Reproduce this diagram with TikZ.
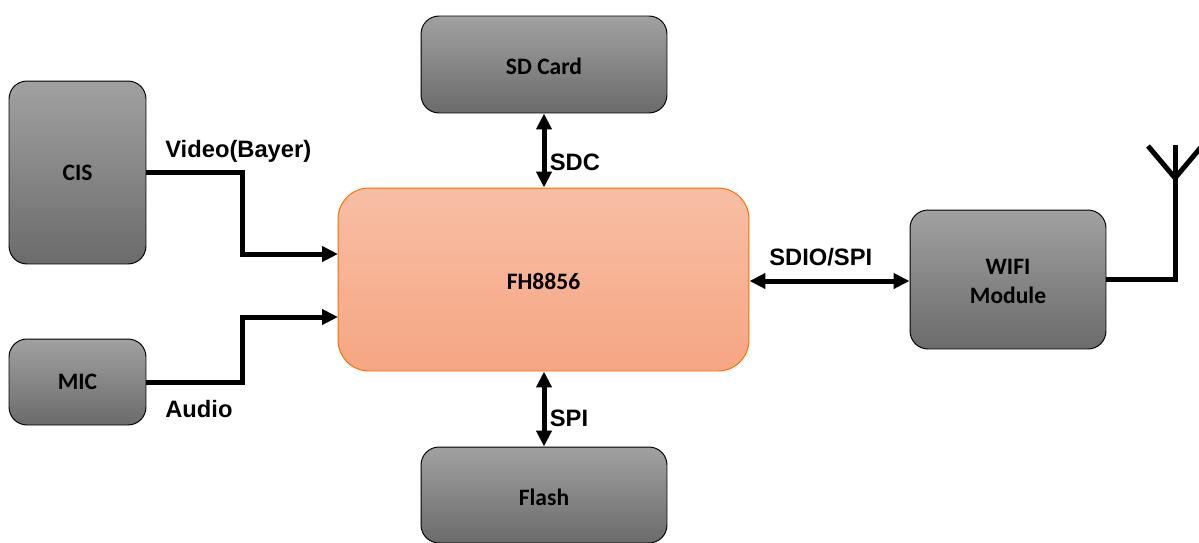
\documentclass[tikz,border=0pt]{standalone}
\usepackage{fontspec}
\setmainfont{Carlito}
\newfontfamily\wirefont{Liberation Sans}
\usetikzlibrary{arrows.meta}

\begin{document}
\begin{tikzpicture}[x=0.02cm,y=-0.02cm,>={Triangle[length=0.32cm,width=0.3cm]},
        block/.style={rounded corners=0.36cm,draw=black,line width=0.55pt,top color=black!37,bottom color=black!58,
          inner sep=0,align=center,font=\fontsize{13.4}{16.6}\selectfont\bfseries,text=black},
        chip/.style={block,rounded corners=0.62cm,draw=orange!85!red,top color=chiptop,bottom color=chipbot},
        wire/.style={line width=0.1cm,black},
        wirelabel/.style={inner sep=0,anchor=base west,font=\fontsize{13.5}{16}\wirefont\bfseries}]
        \definecolor{chiptop}{HTML}{F7BEA4}
        \definecolor{chipbot}{HTML}{F6A683}
        \useasboundingbox (0,0) rectangle (1199,542);
        \node[block,minimum width=2.74cm,minimum height=3.66cm] (cis) at (77.5,172.5) {CIS};
        \node[block,minimum width=2.74cm,minimum height=1.72cm] (mic) at (77.5,382) {MIC};
        \node[block,minimum width=4.92cm,minimum height=1.94cm,text height=11.4pt,text depth=0pt] (sd) at (544,64.5) {SD Card};
        \node[block,minimum width=4.92cm,minimum height=1.92cm,text height=11.4pt,text depth=0pt] (flash) at (544,495) {Flash};
        \node[chip,minimum width=8.22cm,minimum height=3.66cm,text height=11.4pt,text depth=0pt] (fh) at (543.5,279.5) {FH8856};
        \node[block,minimum width=3.92cm,minimum height=2.78cm] (wifi) at (1008,279.5) {\rule{0pt}{11pt}WIFI\\Module};
        \coordinate (videoin) at (338,254);
        \coordinate (audioin) at (338,317);
        \coordinate (bend) at (242,279.5);
        \coordinate (mast) at (1175,178);
        \coordinate (mastl) at (1148,146);
        \coordinate (masttop) at (1175,145);
        \coordinate (mastr) at (1202,146);
        \coordinate (sdioin) at (fh.east |- 0,281);
        \coordinate (sdioout) at (wifi.west |- 0,281);
        \draw[wire,->] (cis.east) -- (bend |- cis.east) -- (bend |- videoin) -- (videoin);
        \draw[wire,->] (mic.east) -- (bend |- mic.east) -- (bend |- audioin) -- (audioin);
        \draw[wire,<->] (sd) -- (fh.north -| sd);
        \draw[wire,<->] (flash) -- (fh.south -| flash);
        \draw[wire,<->] (sdioin) -- (sdioout);
        \draw[wire] (wifi.east) -- (wifi.east -| mast) -- (masttop);
        \draw[wire] (mastl) -- (mast) -- (mastr);
        \node[wirelabel] (video) at (165,157) {Video(Bayer)};
        \node[wirelabel] (audio) at (165,417) {Audio};
        \node[wirelabel] (sdc) at (549.5,170) {SDC};
        \node[wirelabel] (spi) at (549.5,426) {SPI};
        \node[wirelabel] (sdio) at (769,265) {SDIO/SPI};
\end{tikzpicture}
\end{document}
